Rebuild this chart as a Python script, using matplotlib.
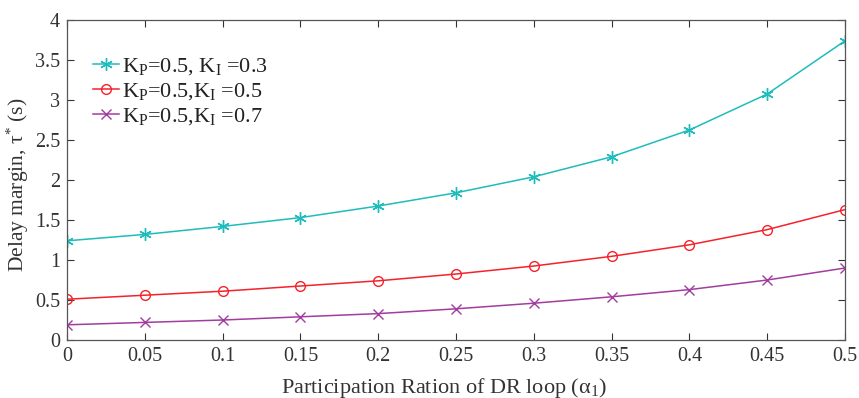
import matplotlib
matplotlib.use("Agg")
import matplotlib.pyplot as plt

alpha = [0, 0.05, 0.1, 0.15, 0.2, 0.25, 0.3, 0.35, 0.4, 0.45, 0.5]
tau_ki03 = [1.24, 1.32, 1.42, 1.53, 1.675, 1.84, 2.04, 2.29, 2.625, 3.075, 3.74]
tau_ki05 = [0.51, 0.56, 0.61, 0.675, 0.74, 0.825, 0.925, 1.046, 1.19, 1.38, 1.63]
tau_ki07 = [0.19, 0.22, 0.25, 0.29, 0.33, 0.39, 0.46, 0.54, 0.63, 0.75, 0.90]
labels = [r"K$_\mathrm{P}$=0.5, K$_\mathrm{I}$ =0.3",
          r"K$_\mathrm{P}$=0.5,K$_\mathrm{I}$ =0.5",
          r"K$_\mathrm{P}$=0.5,K$_\mathrm{I}$ =0.7"]
xticks = [0, 0.05, 0.1, 0.15, 0.2, 0.25, 0.3, 0.35, 0.4, 0.45, 0.5]
xticklabels = ["0", "0.05", "0.1", "0.15", "0.2", "0.25", "0.3", "0.35", "0.4", "0.45", "0.5"]
yticks = [0, 0.5, 1, 1.5, 2, 2.5, 3, 3.5, 4]
yticklabels = ["0", "0.5", "1", "1.5", "2", "2.5", "3", "3.5", "4"]

plt.rcParams['font.family'] = ['Liberation Serif', 'DejaVu Serif']
plt.rcParams['mathtext.fontset'] = 'custom'
plt.rcParams['mathtext.rm'] = 'Liberation Serif'
plt.rcParams['mathtext.it'] = 'Liberation Serif:italic'

fig = plt.figure(figsize=(8.59, 3.98), dpi=100)
ax = fig.add_axes([0.078, 0.1457, 0.9057, 0.804])

cyan = '#1fbcbc'
red = '#f5222a'
purple = '#a23c9e'

ax.plot(alpha, tau_ki03, color=cyan, marker=(6, 2, 0), markersize=9, lw=1.1,
        markeredgewidth=1.0, label=labels[0])
ax.plot(alpha, tau_ki05, color=red, marker='o', markersize=7, lw=1.1,
        markerfacecolor='none', markeredgewidth=1.0, label=labels[1])
ax.plot(alpha, tau_ki07, color=purple, marker='x', markersize=7, lw=1.1,
        markeredgewidth=1.0, label=labels[2])

ax.set_xlim(0, 0.5)
ax.set_ylim(0, 4)
ax.set_xticks(xticks)
ax.set_xticklabels(xticklabels)
ax.set_yticks(yticks)
ax.set_yticklabels(yticklabels)
ax.tick_params(direction='in', top=True, right=True, length=5, width=0.8,
               labelsize=14.5, colors='#333333', pad=5)
for s in ax.spines.values():
    s.set_color('#555555')
    s.set_linewidth(0.9)

ax.set_xlabel("Participation Ration of DR loop (α$_1$)", fontsize=16,
              color='#333333', labelpad=7)
ax.xaxis.label.set_x(0.485)
ax.set_ylabel("Delay margin, τ$^{*}$ (s)", fontsize=15.5, color='#333333', labelpad=3)
ax.yaxis.label.set_y(0.485)

leg = ax.legend(loc='upper left', bbox_to_anchor=(0.022, 0.915), frameon=False,
                fontsize=16, handlelength=1.15, handletextpad=0.15,
                labelspacing=0.18, borderaxespad=0)
for t in leg.get_texts():
    t.set_color('#222222')

fig.savefig('out.png', dpi=100)
